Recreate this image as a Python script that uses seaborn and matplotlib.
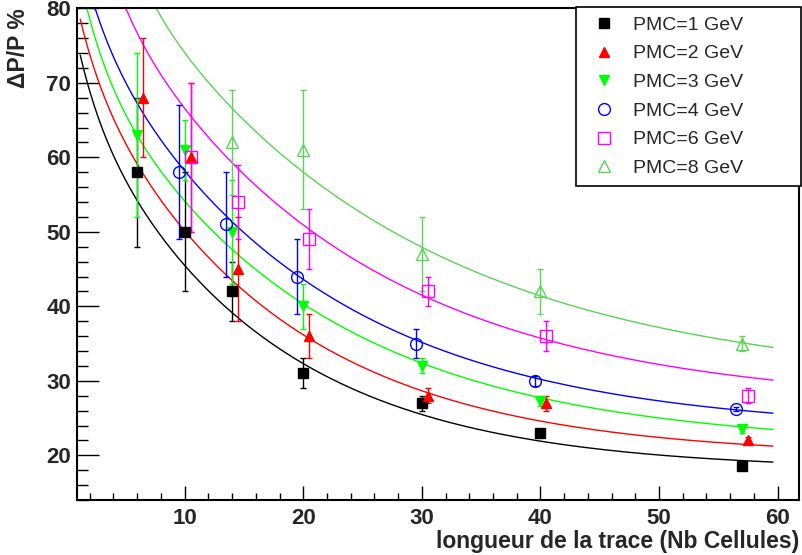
import numpy as np
import pandas as pd
import matplotlib
matplotlib.use("Agg")
import matplotlib.pyplot as plt
import seaborn as sns
from matplotlib.ticker import MultipleLocator

# Series (ROOT colours)
labels = ['PMC=1 GeV', 'PMC=2 GeV', 'PMC=3 GeV', 'PMC=4 GeV', 'PMC=6 GeV', 'PMC=8 GeV']
colors = ['#000000', '#ff0000', '#00ff00', '#0000ff', '#ff00ff', '#59d454']
markers = ['s', '^', 'v', 'o', 's', '^']
filled = [True, True, True, False, False, False]
msizes = [6.5, 7.2, 7.2, 8.5, 8.5, 8.5]

# Measured points: track length (cells), dP/P (%), error
x_1 = [6, 10, 14, 20, 30, 40, 57]
y_1 = [58, 50, 42, 31, 27, 23, 18.6]
e_1 = [10, 8, 4, 2, 1, 0.5, 0.3]

x_2 = [6.5, 10.5, 14.5, 20.5, 30.5, 40.5, 57.5]
y_2 = [68, 60, 45, 36, 28, 27, 22]
e_2 = [8, 10, 7, 3, 1, 1, 0.5]

x_3 = [6, 10, 14, 20, 30, 40, 57]
y_3 = [63, 61, 50, 40, 32, 27.3, 23.5]
e_3 = [11, 4, 7, 3, 1, 0.7, 0.5]

x_4 = [9.5, 13.5, 19.5, 29.5, 39.5, 56.5]
y_4 = [58, 51, 44, 35, 30, 26.2]
e_4 = [9, 7, 5, 2, 0.7, 0.3]

x_6 = [10.5, 14.5, 20.5, 30.5, 40.5, 57.5]
y_6 = [60, 54, 49, 42, 36, 28]
e_6 = [10, 5, 4, 2, 2, 1]

x_8 = [14, 20, 30, 40, 57]
y_8 = [62, 61, 47, 42, 35]
e_8 = [7, 8, 5, 3, 1]

xs = [x_1, x_2, x_3, x_4, x_6, x_8]
ys = [y_1, y_2, y_3, y_4, y_6, y_8]
es = [e_1, e_2, e_3, e_4, e_6, e_8]

# Fit results: dP/P = c + a*exp(-b*L) + f*exp(-g*L)
fit_c = [18.0, 19.8, 21.2, 23.2, 26.6, 29.3]
fit_a = [52.5, 55.9, 56.1, 59.5, 64.8, 68.1]
fit_b = [0.065, 0.0614, 0.0538, 0.0535, 0.049, 0.0432]
fit_f = [13.0, 12.4, 17.5, 14.7, 30.0, 60.0]
fit_g = [0.5, 0.5, 0.46, 0.47, 0.47, 0.47]
fit_range = (1.2, 59.6)

y_lim = (14, 80)
x_lim = (0.9, 61.8)

sns.set_style("ticks")
plt.rcParams['font.family'] = ['Liberation Sans', 'DejaVu Sans']

fig = plt.figure(figsize=(8.02, 5.55), dpi=100)
ax = fig.add_axes([76.7 / 802, 1 - 500 / 555, 722.3 / 802, 491.7 / 555])

# fitted curves (clipped at the frame top like ROOT does)
grid = np.linspace(fit_range[0], fit_range[1], 400)
parts = []
for lab, c, a, b, f, g in zip(labels, fit_c, fit_a, fit_b, fit_f, fit_g):
    fit = c + a * np.exp(-b * grid) + f * np.exp(-g * grid)
    parts.append(pd.DataFrame({'L': grid, 'dpp': np.minimum(fit, y_lim[1]), 'serie': lab}))
curves = pd.concat(parts, ignore_index=True)
sns.lineplot(data=curves, x='L', y='dpp', hue='serie', palette=dict(zip(labels, colors)),
             estimator=None, sort=False, legend=False, lw=1.0, ax=ax, zorder=2)

# data points with error bars
handles = []
for x, y, e, col, m, fl, ms in zip(xs, ys, es, colors, markers, filled, msizes):
    cont = ax.errorbar(x, y, yerr=e, fmt=m, color=col, ms=ms,
                       mfc=col if fl else 'none', mec=col, mew=1.0,
                       elinewidth=1.0, capsize=2.2, capthick=1.0, zorder=3)
    handles.append(cont[0])

ax.set_xlim(*x_lim)
ax.set_ylim(*y_lim)
ax.xaxis.set_major_locator(MultipleLocator(10))
ax.xaxis.set_minor_locator(MultipleLocator(2))
ax.yaxis.set_major_locator(MultipleLocator(10))
ax.yaxis.set_minor_locator(MultipleLocator(2))
ax.tick_params(axis='both', which='both', direction='in', width=1.0, color='black')
ax.tick_params(axis='y', which='major', length=15.5, pad=4)
ax.tick_params(axis='y', which='minor', length=7.7)
ax.tick_params(axis='x', which='major', length=10, pad=6)
ax.tick_params(axis='x', which='minor', length=5)
for lab in ax.get_xticklabels() + ax.get_yticklabels():
    lab.set_fontsize(16)
    lab.set_fontweight('bold')
for s in ax.spines.values():
    s.set_linewidth(1.5)
    s.set_color('black')

ax.set_xlabel('longueur de la trace (Nb Cellules)', fontsize=16.5, fontweight='bold', loc='right')
ax.xaxis.set_label_coords(1.0, -0.061)
ax.xaxis.label.set_va('top')
ax.set_ylabel('ΔP/P %', fontsize=16.5, fontweight='bold', loc='top')
ax.yaxis.set_label_coords(-0.065, 1.0)

leg = ax.legend(handles, labels, loc='upper left',
                bbox_to_anchor=(576 / 802, 1 - 190.7 / 555, 225 / 802, 183.4 / 555),
                bbox_transform=fig.transFigure, mode='expand', borderaxespad=0,
                fontsize=14, numpoints=1, frameon=True, fancybox=False,
                borderpad=0.45, handlelength=2.0, handletextpad=0.46, labelspacing=0.57)
leg.get_frame().set_edgecolor('black')
leg.get_frame().set_linewidth(1.2)
leg.get_frame().set_alpha(1)

fig.savefig('out.png', dpi=100)
